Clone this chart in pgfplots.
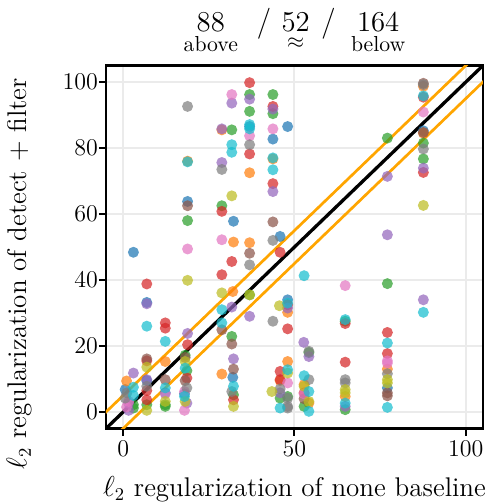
\documentclass[border=0pt]{standalone}
\usepackage{pgfplots}
\usepackage{pgfplotstable}
\usepackage{amsmath}
\pgfplotsset{compat=1.18}
\definecolor{c0}{HTML}{1F77B4}
\definecolor{c1}{HTML}{FF7F0E}
\definecolor{c2}{HTML}{2CA02C}
\definecolor{c3}{HTML}{D62728}
\definecolor{c4}{HTML}{9467BD}
\definecolor{c5}{HTML}{8C564B}
\definecolor{c6}{HTML}{E377C2}
\definecolor{c7}{HTML}{7F7F7F}
\definecolor{c8}{HTML}{BCBD22}
\definecolor{c9}{HTML}{17BECF}
\definecolor{gridc}{HTML}{EBEBEB}
\definecolor{orng}{HTML}{FFA500}

\pgfplotstableread{
x y c
87.6 99.6 5
87.6 99.2 7
87.6 98.7 1
87.6 95.4 3
87.6 95.8 9
87.6 90.9 6
87.6 85.2 0
87.6 84.7 5
87.6 84.5 1
87.6 81.5 2
87.6 79.7 7
87.6 76.7 2
87.6 73.9 4
87.6 72.6 3
87.6 62.6 8
87.6 34.0 4
87.6 30.2 9
77.1 83.0 2
77.1 71.4 4
77.1 53.7 4
77.1 38.9 2
77.1 24.1 3
77.1 20.9 9
77.1 17.7 3
77.1 15.5 6
77.1 14.8 6
77.1 13.0 1
77.1 11.6 7
77.1 9.8 8
77.1 8.8 8
77.1 7.3 0
77.1 5.8 5
77.1 4.9 5
77.1 1.4 9
64.8 38.3 6
64.8 28.0 9
64.8 27.5 2
64.8 26.8 3
64.8 15.1 3
64.8 9.8 7
64.8 8.8 7
64.8 6.8 8
64.8 5.8 8
64.8 4.7 1
64.8 2.7 9
64.8 1.7 4
64.8 0.7 2
52.8 41.3 9
52.7 21.1 4
54.2 18.4 7
54.2 18.0 2
54.2 16.8 4
52.8 11.0 9
54.2 9.8 7
52.8 8.3 1
52.8 7.8 8
54.2 6.2 9
52.8 5.8 3
52.8 5.5 6
52.8 4.0 5
54.2 3.2 8
54.2 2.7 1
52.8 1.7 2
54.2 0.2 9
48.0 86.5 0
48.0 34.0 0
48.0 33.0 9
48.0 32.5 3
48.0 31.5 4
48.0 30.2 1
48.0 25.2 3
48.0 15.3 1
48.0 12.8 9
48.0 11.8 8
48.0 8.8 6
48.0 4.7 2
48.0 4.2 7
48.0 1.7 7
48.0 1.2 7
45.8 53.2 0
45.8 48.4 3
45.6 32.2 8
45.8 12.3 3
45.8 9.8 3
45.8 9.5 1
45.8 7.0 7
45.8 5.8 4
45.8 4.2 2
45.8 1.2 9
43.4 6.2 8
43.7 96.2 2
43.7 92.6 3
43.7 91.8 4
43.7 90.4 2
43.7 85.8 6
43.7 82.7 0
43.7 76.7 1
43.7 77.0 9
43.7 73.4 9
43.7 69.2 3
43.7 66.8 4
43.7 57.6 5
43.7 52.0 7
43.7 27.5 7
36.9 99.8 3
36.9 96.2 2
36.9 94.8 4
36.9 91.1 2
36.9 87.1 9
36.9 86.5 0
36.9 85.8 9
36.9 83.7 6
36.9 81.0 7
36.9 78.2 3
36.9 72.5 1
36.9 51.3 1
36.9 48.1 5
36.9 44.6 7
36.9 35.5 2
36.9 35.5 8
36.9 29.0 4
31.7 96.2 6
31.7 93.6 4
31.7 85.5 2
28.8 85.8 4
28.8 85.5 1
31.7 81.0 9
31.7 78.7 9
28.8 75.6 4
28.8 73.5 7
31.7 65.5 8
28.8 62.5 2
28.8 60.8 3
32.2 57.8 0
28.8 52.2 6
32.2 51.5 1
31.7 45.6 3
28.8 41.6 3
28.8 36.1 8
32.0 36.5 1
28.8 31.0 9
31.7 31.8 4
28.8 27.0 9
28.8 24.9 5
31.7 22.9 2
31.7 20.6 5
32.2 16.1 4
32.2 13.0 5
28.8 11.5 1
32.0 10.5 0
32.2 7.8 9
31.7 6.2 7
32.2 5.2 2
32.2 3.7 3
32.2 1.7 8
18.8 92.6 7
18.8 76.0 1
18.8 75.8 9
18.8 63.8 0
18.8 62.5 5
18.8 58.0 2
18.8 49.4 6
18.8 39.9 8
18.8 23.8 4
18.8 20.4 3
18.1 17.2 2
18.1 16.5 5
18.1 15.3 8
18.1 13.3 9
18.6 12.5 2
18.6 10.3 3
18.1 9.5 5
18.6 7.3 7
17.9 6.2 6
17.9 5.5 0
17.9 4.7 9
18.1 3.2 8
18.6 2.7 4
17.9 0.5 6
12.3 27.0 3
12.3 25.4 3
12.3 21.4 9
12.3 15.3 1
12.3 9.8 5
12.3 7.3 9
12.3 5.8 0
12.3 5.5 6
12.3 3.2 8
12.3 2.2 2
12.3 1.7 2
6.9 38.8 3
6.9 33.2 0
6.9 32.8 4
6.9 26.0 9
6.9 16.1 5
6.9 15.5 3
6.9 13.6 8
6.9 9.8 4
6.9 9.5 0
6.9 7.8 7
6.9 6.5 3
6.9 3.7 3
6.9 2.2 2
6.9 0.5 8
3.0 48.4 0
3.0 11.8 4
1.0 9.4 1
0.6 6.8 0
3.0 7.5 9
1.1 5.8 7
3.0 5.0 9
0.6 4.2 7
1.6 3.2 6
1.6 2.7 4
3.0 2.2 2
3.0 1.2 2
1.6 0.5 4
1.0 1.5 6
}\pts

\begin{document}
\begin{tikzpicture}
\begin{axis}[
  scale only axis, width=188.5pt, height=181.5pt,
  xmin=-5, xmax=105, ymin=-5, ymax=105,
  xtick={0,50,100}, ytick={0,20,40,60,80,100},
  tick align=outside, tick pos=left, major tick length=3.5pt,
  tick style={black, line width=1pt},
  grid=major, grid style={gridc, line width=1pt},
  axis line style={line width=1.2pt},
  xlabel={$\ell_2$ regularization of none baseline},
  ylabel={$\ell_2$ regularization of detect + filter},
  label style={font=\fontsize{13.5}{15}\selectfont},
  xlabel style={at={(axis description cs:0.5,-0.167)}, anchor=center},
  ylabel style={at={(axis description cs:-0.23,0.4256)}, anchor=center},
  tick label style={font=\fontsize{12}{14}\selectfont},
  xticklabel style={inner sep=2.5pt},
  yticklabel style={inner sep=0.3pt},
  title={$\underset{\text{above}}{88}$\hspace{9.5pt}/\hspace{5.25pt}$\underset{\approx}{52}$\hspace{5.75pt}/\hspace{7.75pt}$\underset{\text{below}}{164}$},
  title style={font=\fontsize{15.5}{17}\selectfont, at={(axis description cs:0.5,1)}, anchor=center, yshift=11pt},
  clip=true,
]
\pgfplotsinvokeforeach{0,...,9}{
\addplot[c#1, only marks, mark=*, mark size=2.75pt,
  mark options={solid, line width=0pt, fill=c#1, draw opacity=0, fill opacity=0.72},
  restrict expr to domain={\thisrow{c}}{#1:#1}]
  table[x=x, y=y] {\pts};
}
\addplot[orng, line width=1.35pt, no marks] coordinates {(-10,-5) (110,115)};
\addplot[orng, line width=1.35pt, no marks] coordinates {(-10,-15) (110,105)};
\addplot[black, line width=1.65pt, no marks] coordinates {(-10,-10) (110,110)};
\end{axis}
\pgfresetboundingbox
\path[use as bounding box] ([shift={(-53pt,-37.75pt)}]current axis.south west) rectangle ([shift={(3pt,32.75pt)}]current axis.north east);
\end{tikzpicture}
\end{document}
